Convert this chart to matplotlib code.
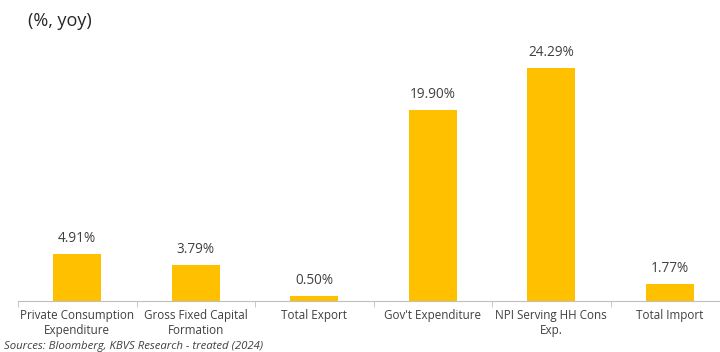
import matplotlib
matplotlib.use("Agg")
import matplotlib.pyplot as plt
import numpy as np

categories = ["Private Consumption\nExpenditure", "Gross Fixed Capital\nFormation", "Total Export",
              "Gov't Expenditure", "NPI Serving HH Cons\nExp.", "Total Import"]
values = [4.91, 3.79, 0.50, 19.90, 24.29, 1.77]
labels = ["4.91%", "3.79%", "0.50%", "19.90%", "24.29%", "1.77%"]

plt.rcParams['font.family'] = ['Open Sans', 'DejaVu Sans']

fig = plt.figure(figsize=(7.2, 3.52), dpi=100)
ax = fig.add_axes([0.025, 0.145, 0.9875, 0.707])
x = np.arange(len(categories))
ax.bar(x, values, width=0.405, color="#FFC000", zorder=2)
for xi, v, l in zip(x, values, labels):
    ax.text(xi, v + 0.85, l, ha="center", va="bottom", fontsize=9.8, color="#404040")
ax.set_xlim(-0.5, len(categories) - 0.5)
ax.set_ylim(0, 26)
ax.set_xticks(x)
ax.set_xticklabels(categories, fontsize=8.4, color="#404040", linespacing=1.2)
ax.tick_params(axis="x", which="major", length=0, pad=6)
ax.set_xticks(np.arange(-0.5, len(categories), 1.0), minor=True)
ax.tick_params(axis="x", which="minor", length=4, color="#BFBFBF")
ax.set_yticks([])
for s in ["top", "right", "left"]:
    ax.spines[s].set_visible(False)
ax.spines["bottom"].set_color("#BFBFBF")
ax.spines["bottom"].set_linewidth(0.8)

fig.text(0.039, 0.94, "(%, yoy)", fontsize=13, color="#262626", va="center")
fig.text(0.006, 0.0, "Sources: Bloomberg, KBVS Research - treated (2024)", fontsize=8.2,
         style="italic", color="#404040", va="bottom")

fig.savefig("out.png", dpi=100)
